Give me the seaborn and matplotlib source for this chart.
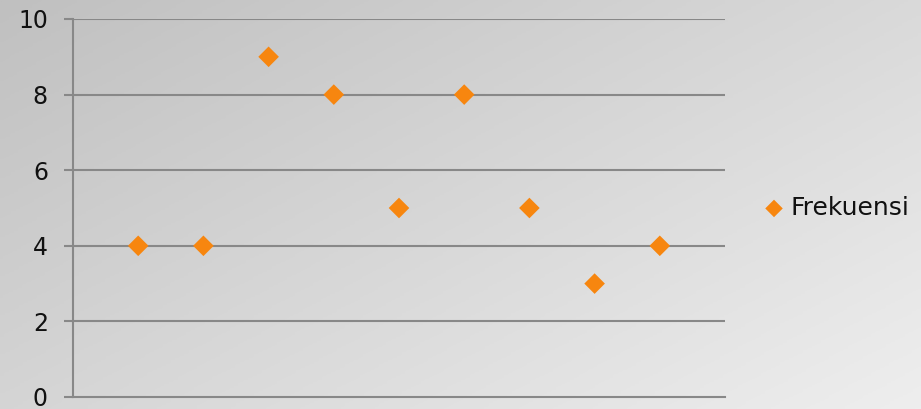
import matplotlib
matplotlib.use("Agg")
import matplotlib.pyplot as plt
import numpy as np
import pandas as pd
import seaborn as sns

# data
x_pos = [1, 2, 3, 4, 5, 6, 7, 8, 9]
frekuensi = [4, 4, 9, 8, 5, 8, 5, 3, 4]
y_ticks = [0, 2, 4, 6, 8, 10]

df = pd.DataFrame({'x': x_pos, 'Frekuensi': frekuensi})

sns.set_style('white')
plt.rcParams['font.family'] = ['DejaVu Sans']

fig = plt.figure(figsize=(9.21, 4.09), dpi=100)

# gray diagonal gradient background
bg = fig.add_axes([0, 0, 1, 1], zorder=0)
gx, gy = np.meshgrid(np.linspace(0, 1, 200), np.linspace(0, 1, 200))
grad = 0.55 * gx + 0.45 * gy
bg.imshow(grad, cmap=plt.matplotlib.colors.LinearSegmentedColormap.from_list(
    'g', ['#c0c0c0', '#eeeeee']), aspect='auto', extent=[0, 1, 0, 1], origin='upper')
bg.axis('off')

ax = fig.add_axes([73 / 921, 12 / 409, 652 / 921, 378 / 409], zorder=1)
ax.patch.set_alpha(0)

sns.scatterplot(data=df, x='x', y='Frekuensi', marker='D', s=110,
                color='#F7860F', edgecolor='none', label='Frekuensi',
                ax=ax, zorder=3, clip_on=False)

ax.set_xlim(0, 10)
ax.set_ylim(0, 10)
ax.set_yticks(y_ticks)
ax.set_xticks([])
ax.set_xlabel('')
ax.set_ylabel('')
for yv in y_ticks[1:]:
    ax.axhline(yv, color='#888888', linewidth=1.5, zorder=1)

for s in ['top', 'right']:
    ax.spines[s].set_visible(False)
ax.spines['left'].set_color('#888888')
ax.spines['left'].set_linewidth(1.5)
ax.spines['bottom'].set_color('#888888')
ax.spines['bottom'].set_linewidth(1.5)
ax.tick_params(axis='y', length=6.5, width=1.5, color='#888888',
               labelsize=17, pad=11.5, left=True)
for lbl in ax.get_yticklabels():
    lbl.set_color('#111111')

leg = ax.legend(loc='center left', bbox_to_anchor=((764 - 73) / 652, 0.5),
                frameon=False, fontsize=18, handlelength=0.8,
                handletextpad=0.26, markerscale=0.85, borderpad=0,
                borderaxespad=0)
for t in leg.get_texts():
    t.set_color('#111111')

fig.savefig('out.png', dpi=100)
